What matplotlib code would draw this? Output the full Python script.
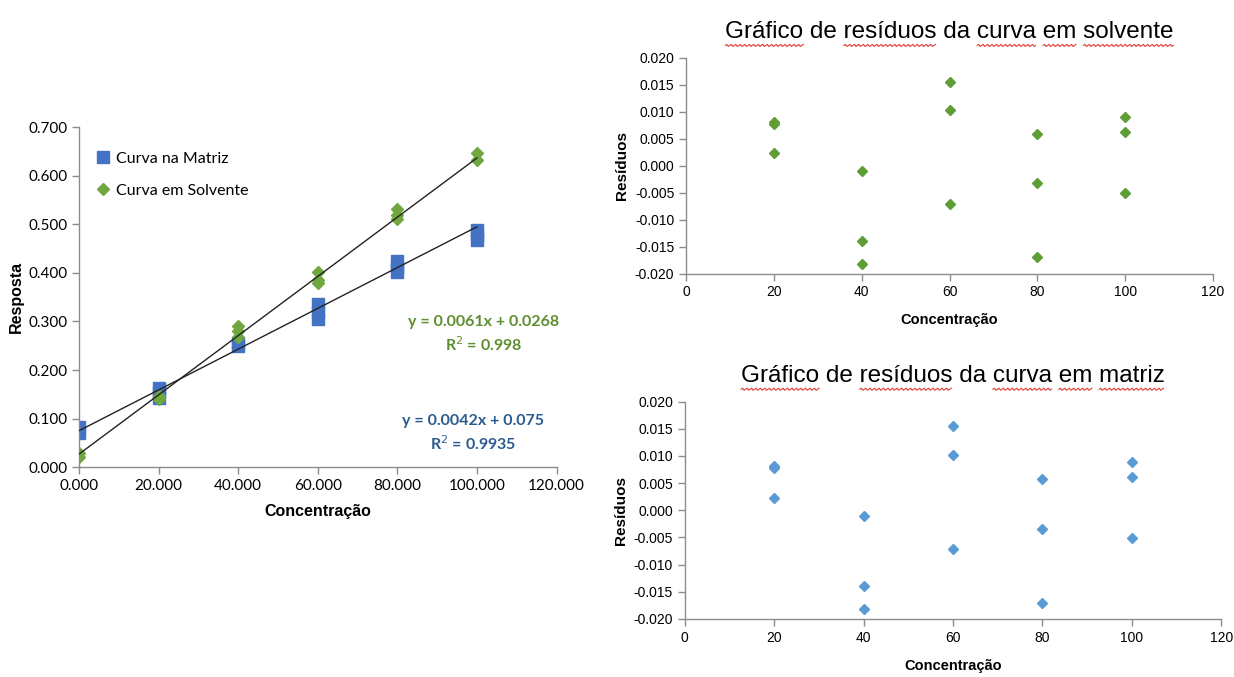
import numpy as np
import matplotlib
matplotlib.use('Agg')
import matplotlib.pyplot as plt
from matplotlib.lines import Line2D

# ---- data ----
conc = [0, 20, 40, 60, 80, 100]

matriz_x = [0, 0, 20, 20, 20, 40, 40, 60, 60, 60, 80, 80, 80, 100, 100, 100]
matriz_y = [0.070, 0.082, 0.142, 0.154, 0.164, 0.250, 0.256, 0.305, 0.320, 0.335,
            0.401, 0.412, 0.424, 0.467, 0.478, 0.489]

solv_x = [0, 0, 20, 20, 40, 40, 40, 60, 60, 60, 80, 80, 80, 100, 100]
solv_y = [0.020, 0.030, 0.140, 0.146, 0.268, 0.280, 0.290, 0.380, 0.386, 0.401,
          0.512, 0.520, 0.531, 0.632, 0.647]

# trend lines (slope, intercept) from the equations on the chart
slope_matriz, icpt_matriz = 0.0042, 0.075
slope_solv, icpt_solv = 0.0061, 0.0268

res_x = [20, 20, 20, 40, 40, 40, 60, 60, 60, 80, 80, 80, 100, 100, 100]
res_solv = [0.0081, 0.0077, 0.0023, -0.0009, -0.0140, -0.0182, 0.0156, 0.0103, -0.0071,
            0.0058, -0.0033, -0.0169, 0.0090, 0.0062, -0.0051]
res_matriz = [0.0081, 0.0077, 0.0023, -0.0011, -0.0139, -0.0182, 0.0155, 0.0101, -0.0071,
              0.0058, -0.0034, -0.0170, 0.0089, 0.0062, -0.0051]

# words flagged by the spell checker in the titles
flagged = ['Gráfico', 'resíduos', 'curva', 'em', 'solvente', 'matriz']

blue = '#4472C4'
green = '#70A83F'
grey = '#8C8C8C'
sans = ['Liberation Sans', 'DejaVu Sans']
calib = ['Lato', 'DejaVu Sans']

fig = plt.figure(figsize=(12.34, 6.77), dpi=100)


def style_axes(ax):
    for s in ['top', 'right']:
        ax.spines[s].set_visible(False)
    for s in ['left', 'bottom']:
        ax.spines[s].set_color(grey)
        ax.spines[s].set_linewidth(1)
    ax.tick_params(direction='out', length=5, color=grey, width=1)


# ---- left: calibration curves ----
ax = fig.add_axes([0.064, 0.310, 0.387, 0.502])
style_axes(ax)
xx = np.array([0, 100])
ax.plot(xx, slope_matriz * xx + icpt_matriz, color='#222222', lw=1, zorder=3)
ax.plot(xx, slope_solv * xx + icpt_solv, color='#222222', lw=1, zorder=3)
ax.plot(matriz_x, matriz_y, 's', color=blue, ms=8.5, ls='none', label='Curva na Matriz', zorder=2)
ax.plot(solv_x, solv_y, 'D', color=green, ms=6, ls='none', label='Curva em Solvente', zorder=2)
ax.set_xlim(0, 120)
ax.set_ylim(0, 0.7)
ax.set_xticks(np.arange(0, 121, 20))
ax.set_yticks(np.arange(0, 0.71, 0.1))
ax.set_xticklabels(['%.3f' % v for v in np.arange(0, 121, 20)], fontsize=11, family=calib)
ax.set_yticklabels(['%.3f' % v for v in np.arange(0, 0.71, 0.1)], fontsize=11, family=calib)
ax.set_xlabel('Concentração', fontsize=11.5, fontweight='bold', family=sans, labelpad=8)
ax.set_ylabel('Resposta', fontsize=11.5, fontweight='bold', family=sans, labelpad=3)
ax.legend(loc='upper left', bbox_to_anchor=(0.0, 0.97), frameon=False, handletextpad=0.2,
          handlelength=1.2, labelspacing=1.1, prop={'family': calib, 'size': 11.5})
ax.text(0.848, 0.39, 'y = 0.0061x + 0.0268\nR$^2$ = 0.998', transform=ax.transAxes,
        ha='center', va='center', color='#5E8E2E', fontsize=11.5, fontweight='bold',
        family=calib, linespacing=1.4)
ax.text(0.825, 0.1, 'y = 0.0042x + 0.075\nR$^2$ = 0.9935', transform=ax.transAxes,
        ha='center', va='center', color='#2B5C8F', fontsize=11.5, fontweight='bold',
        family=calib, linespacing=1.4)


def residual_plot(rect, y, color, title):
    a = fig.add_axes(rect)
    style_axes(a)
    a.plot(res_x, y, 'D', color=color, ms=5, ls='none')
    a.set_xlim(0, 120)
    a.set_ylim(-0.02, 0.02)
    a.set_xticks(np.arange(0, 121, 20))
    a.set_yticks(np.arange(-0.02, 0.0201, 0.005))
    a.set_xticklabels([str(v) for v in range(0, 121, 20)], fontsize=10, family=sans)
    a.set_yticklabels(['%.3f' % v if abs(v) > 1e-9 else '0.000' for v in np.arange(-0.02, 0.0201, 0.005)],
                      fontsize=10, family=sans)
    a.set_xlabel('Concentração', fontsize=10.5, fontweight='bold', family=sans, labelpad=10)
    a.set_ylabel('Resíduos', fontsize=11, fontweight='bold', family=sans, labelpad=4)
    a.set_title(title, fontsize=17.5, family=sans, pad=14)
    return a


ax_s = residual_plot([0.556, 0.596, 0.427, 0.3185], res_solv, '#5E9E35',
                     'Gráfico de resíduos da curva em solvente')
ax_m = residual_plot([0.555, 0.0857, 0.4346, 0.321], res_matriz, '#5B9BD5',
                     'Gráfico de resíduos da curva em matriz')

# red wavy spell-check underlines below the flagged title words
fig.canvas.draw()
renderer = fig.canvas.get_renderer()
W, H = fig.bbox.width, fig.bbox.height


def text_width(s, size):
    tmp = fig.text(0, 0, s, fontsize=size, family=sans)
    w = tmp.get_window_extent(renderer).width
    tmp.remove()
    return w


for a in [ax_s, ax_m]:
    t = a.title
    bb = t.get_window_extent(renderer)
    words = t.get_text().split(' ')
    for i, w in enumerate(words):
        if w not in flagged:
            continue
        end = bb.x0 + text_width(' '.join(words[:i + 1]), t.get_fontsize())
        start = end - text_width(w, t.get_fontsize())
        px = np.arange(start, end, 1.5)
        py = bb.y0 - 2 + 1.2 * np.sin(np.arange(len(px)) * np.pi / 1.5)
        fig.add_artist(Line2D(px / W, py / H, transform=fig.transFigure,
                              color='#E03C31', lw=0.8))

fig.savefig('out.png', dpi=100)
